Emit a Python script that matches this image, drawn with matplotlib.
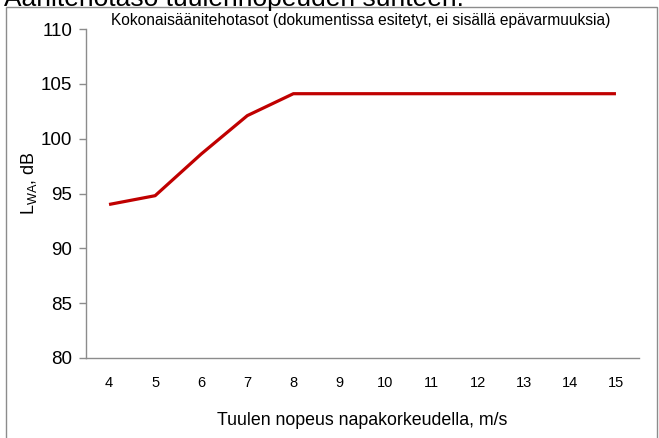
import matplotlib
matplotlib.use('Agg')
from matplotlib import pyplot as plt
from matplotlib.patches import Rectangle

# tuulen nopeus (m/s) ja äänitehotaso (dB)
wind_speeds = ['4', '5', '6', '7', '8', '9', '10', '11', '12', '13', '14', '15']
lwa_values = [94.0, 94.8, 98.6, 102.1, 104.1, 104.1, 104.1, 104.1, 104.1, 104.1, 104.1, 104.1]
y_ticks = [80, 85, 90, 95, 100, 105, 110]

main_title = 'Äänitehotaso tuulennopeuden suhteen.'
sub_title = 'Kokonaisäänitehotasot (dokumentissa esitetyt, ei sisällä epävarmuuksia)'
x_label = 'Tuulen nopeus napakorkeudella, m/s'
y_label = r'L$_{\mathregular{WA}}$, dB'

plt.rcParams['font.family'] = ['Liberation Sans', 'DejaVu Sans']
plt.rcParams['mathtext.fontset'] = 'custom'
plt.rcParams['mathtext.rm'] = 'Liberation Sans'

W, H = 659, 438
fig = plt.figure(figsize=(W / 100, H / 100), dpi=100)
ax = fig.add_axes([86 / W, 1 - 358 / H, (639 - 86) / W, (358 - 29) / H])

ax.plot(wind_speeds, lwa_values, color='#C00000', lw=2.3, solid_capstyle='butt')
ax.set_xlim(-0.5, len(wind_speeds) - 0.5)
ax.set_ylim(80, 110)
ax.set_yticks(y_ticks)

for side in ['top', 'right']:
    ax.spines[side].set_visible(False)
for side in ['left', 'bottom']:
    ax.spines[side].set_color('#8c8c8c')
    ax.spines[side].set_linewidth(1.0)

ax.tick_params(axis='y', direction='out', length=5, width=1, color='#8c8c8c',
               labelsize=13.5, pad=5)
ax.tick_params(axis='x', length=0, labelsize=10.5, pad=13)

ax.set_xlabel(x_label, fontsize=12.8, labelpad=16)
fig.text(29 / W, 1 - 183 / H, y_label, rotation=90, fontsize=13,
         ha='center', va='center')

fig.text(361 / W, 1 - 21 / H, sub_title, fontsize=11.2, ha='center', va='center')

# otsikko on kuvassa osittain rajattu pois
fig.text(4 / W, 1 - 6 / H, main_title, fontsize=19, ha='left', va='baseline')

fig.patches.append(Rectangle((6 / W, -0.1), (657 - 6) / W, 1.1 - 6.5 / H,
                             transform=fig.transFigure, fill=False,
                             edgecolor='#8c8c8c', lw=1.0))

fig.savefig('out.png', dpi=100)
